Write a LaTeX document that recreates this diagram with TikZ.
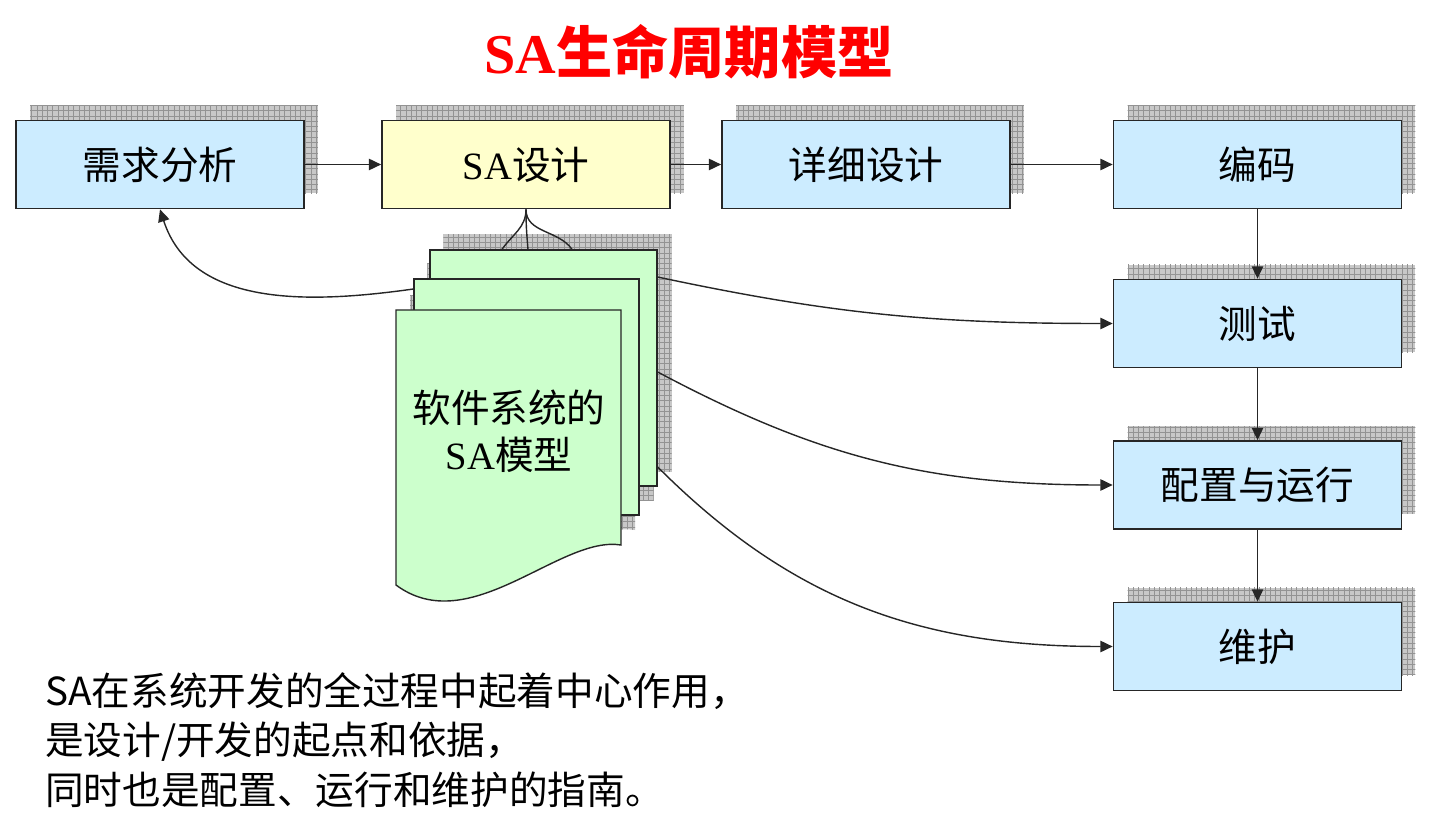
\documentclass[tikz,border=0pt]{standalone}
\usepackage{fontspec}
\setmainfont{Noto Sans CJK SC}
\newfontfamily\romanfont{Liberation Serif}
\usetikzlibrary{arrows.meta,shadows,patterns,backgrounds}
\definecolor{stageblue}{HTML}{CCECFF}
\definecolor{stageyellow}{HTML}{FFFFCC}
\definecolor{pagegreen}{HTML}{CCFFCC}
\definecolor{shadegray}{HTML}{C8C8C8}
\tikzset{
  gridshadow/.style={general shadow={shadow xshift=0.28cm,shadow yshift=0.3cm,fill=shadegray},
    general shadow={shadow xshift=0.28cm,shadow yshift=0.3cm,pattern=grid,pattern color=gray!85}},
  stage/.style={draw=black!85,line width=1pt,fill=stageblue,minimum width=5.76cm,minimum height=1.76cm,
    inner sep=0pt,font=\fontsize{22}{26}\selectfont,gridshadow},
  page/.style={draw=black!85,line width=0.8pt,fill=pagegreen},
  flow/.style={-{Triangle[length=7pt,width=6.5pt]},line width=0.8pt,black!85},
  link/.style={line width=0.8pt,black!85}
}
\begin{document}
\begin{tikzpicture}[x=0.02cm,y=0.02cm]
\useasboundingbox (0,0) rectangle (1429,-817);
\node[text=red,font=\fontsize{32}{37}\selectfont\bfseries] (title) at (689,-52) {{\romanfont SA}生命周期模型};
\node[stage] (req) at (160,-164.5) {需求分析};
\node[stage,fill=stageyellow] (sa) at (526,-164.5) {{\romanfont SA}设计};
\node[stage] (detail) at (866,-164.5) {详细设计};
\node[stage] (coding) at (1257.5,-164.5) {编码};
\node[stage] (testing) at (1257.5,-323.5) {测试};
\node[stage] (deploy) at (1257.5,-485) {配置与运行};
\node[stage] (maint) at (1257.5,-646.5) {维护};
\node[page,minimum width=4.54cm,minimum height=4.72cm] (back) at (543.5,-368) {};
\node[page,minimum width=4.5cm,minimum height=4.72cm] (mid) at (526.5,-397) {};
\draw[page] (396,-310) -- (621,-310) -- (621,-545) .. controls (560,-535) and (470,-640) .. (396,-585) -- cycle;
\begin{scope}[on background layer]
\path[gridshadow] (back.south west) rectangle (back.north east);
\path[gridshadow] (mid.south west) rectangle (mid.north east);
\path[gridshadow] (396,-310) -- (621,-310) -- (621,-545) .. controls (560,-535) and (470,-640) .. (396,-585) -- cycle;
\end{scope}
\node[align=center,font=\fontsize{22}{26.7}\selectfont] (doc) at (509,-431) {软件系统的\\{\romanfont SA}模型};
\draw[flow] (req) -- (sa);
\draw[flow] (sa) -- (detail);
\draw[flow] (detail) -- (coding);
\draw[flow] (coding) -- (testing);
\draw[flow] (testing) -- (deploy);
\draw[flow] (deploy) -- (maint);
\draw[link] (sa.south) to[out=-90,in=55] ([xshift=-0.83cm]back.north);
\draw[link] (sa.south) to[out=-90,in=95] ([xshift=-0.31cm]back.north);
\draw[link] (sa.south) to[out=-90,in=125] ([xshift=0.57cm]back.north);
\draw[flow] ([yshift=2.16cm]mid.west) to[out=188,in=-72] (req.south);
\draw[flow] ([yshift=1.82cm]back.east) to[out=-12,in=180] (testing.west);
\draw[flow] ([yshift=-0.08cm]back.east) to[out=-28,in=180] (deploy.west);
\draw[flow] ([yshift=-1.98cm]back.east) to[out=-45,in=180] (maint.west);
\node[anchor=west,align=left,font=\fontsize{22}{28.3}\selectfont] (note) at (39,-740)
  {SA在系统开发的全过程中起着中心作用，\\是设计/开发的起点和依据，\\同时也是配置、运行和维护的指南。};
\end{tikzpicture}
\end{document}
